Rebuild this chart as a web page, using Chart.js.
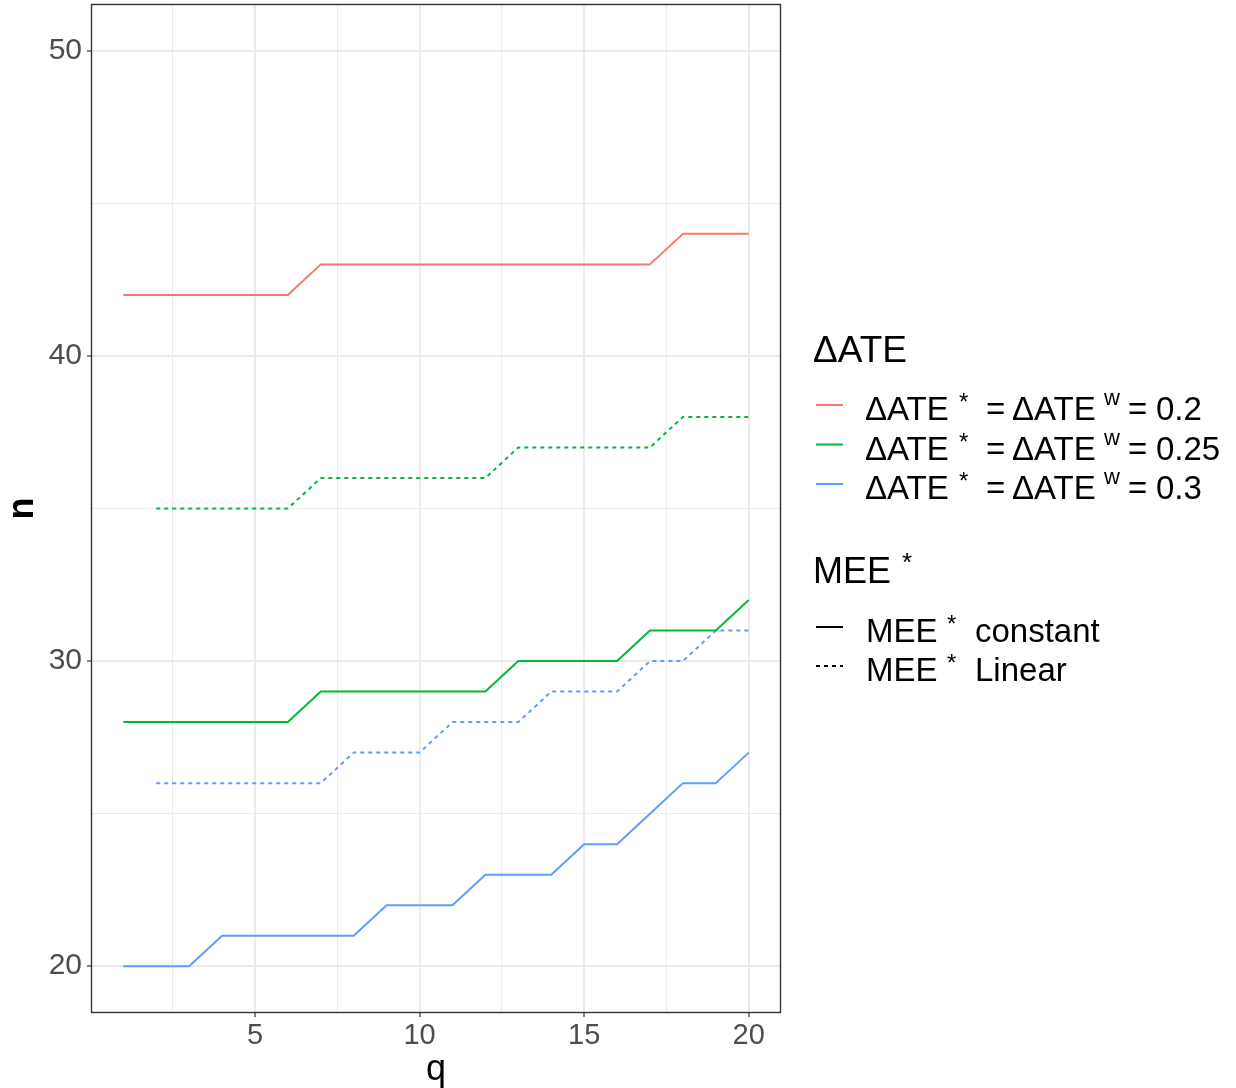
<!DOCTYPE html>
<html>
<head>
<meta charset="utf-8">
<script src="https://cdn.jsdelivr.net/npm/chart.js@4.4.1/dist/chart.umd.min.js"></script>
<style>
  html, body { margin: 0; padding: 0; background: #ffffff; }
  #wrap { position: relative; width: 1236px; height: 1088px; }
</style>
</head>
<body>
<div id="wrap"><canvas id="c" width="1236" height="1088"></canvas></div>
<script>
// ---- data ----
const q = [1,2,3,4,5,6,7,8,9,10,11,12,13,14,15,16,17,18,19,20];
const const02  = [42,42,42,42,42,42,43,43,43,43,43,43,43,43,43,43,43,44,44,44];
const linear025 = [null,35,35,35,35,35,36,36,36,36,36,36,37,37,37,37,37,38,38,38];
const const025 = [28,28,28,28,28,28,29,29,29,29,29,29,30,30,30,30,31,31,31,32];
const linear03 = [null,26,26,26,26,26,26,27,27,27,28,28,28,29,29,29,30,30,31,31];
const const03  = [20,20,20,21,21,21,21,21,22,22,22,23,23,23,24,24,25,26,26,27];
const xTicks = [2.5,5,7.5,10,12.5,15,17.5,20];
const xMajor = [5,10,15,20];
const yTicks = [20,25,30,35,40,45,50];
const yMajor = [20,30,40,50];
const deltaValues = ["0.2","0.25","0.3"];
const colors = ["#F8766D","#00BA38","#619CFF"];
const meeLabels = ["constant","Linear"];

function pts(arr){ return q.map((x,i)=>({x:x,y:arr[i]})).filter(p=>p.y!==null); }

const FONT = '"Liberation Sans", Arial, Helvetica, sans-serif';

const datasets = [
  {data: pts(const02),  borderColor: colors[0], dash: []},
  {data: pts(linear025), borderColor: colors[1], dash: [4,4]},
  {data: pts(const025), borderColor: colors[1], dash: []},
  {data: pts(linear03), borderColor: colors[2], dash: [4,4]},
  {data: pts(const03),  borderColor: colors[2], dash: []}
].map(d=>({data:d.data, borderColor:d.borderColor, borderDash:d.dash, borderWidth:2,
  pointRadius:0, fill:false, tension:0, borderCapStyle:'butt', borderJoinStyle:'round'}));

const panelAndLegend = {
  id: 'panelAndLegend',
  afterDraw(chart){
    const ctx = chart.ctx; const a = chart.chartArea;
    ctx.save();
    ctx.strokeStyle = '#333333'; ctx.lineWidth = 1.4;
    const L = Math.round(a.left) - 0.5, T = Math.round(a.top) - 0.5;
    const R = Math.round(a.right) + 0.5, B = Math.round(a.bottom) + 0.5;
    ctx.strokeRect(L, T, R-L, B-T);
    ctx.fillStyle = '#000000';
    ctx.textBaseline = 'alphabetic'; ctx.textAlign = 'left';
    function t(s, x, y, size){ ctx.font = size+'px '+FONT; ctx.fillText(s, x, y); }
    // Legend 1
    t('\u0394ATE', 813, 362, 37);
    const rowsY = [420, 459.5, 499];
    rowsY.forEach((by,i)=>{
      ctx.strokeStyle = colors[i]; ctx.lineWidth = 2; ctx.setLineDash([]);
      ctx.beginPath(); ctx.moveTo(816, by-15); ctx.lineTo(843, by-15); ctx.stroke();
      t('\u0394ATE', 865, by, 33);
      t('*', 959, by-10, 24);
      t('=', 986, by, 33);
      t('\u0394ATE', 1012, by, 33);
      t('w', 1104, by-15, 22);
      t('=', 1128, by, 33);
      t(deltaValues[i], 1156, by, 33);
    });
    // Legend 2
    t('MEE', 813, 583, 36);
    t('*', 902, 571, 26);
    const rows2 = [642, 681];
    rows2.forEach((by,i)=>{
      ctx.strokeStyle = '#000000'; ctx.lineWidth = 2;
      ctx.setLineDash(i===1 ? [4,4] : []);
      ctx.beginPath(); ctx.moveTo(816, by-15); ctx.lineTo(843, by-15); ctx.stroke();
      t('MEE', 866, by, 33);
      t('*', 947, by-10, 24);
      t(meeLabels[i], 975, by, 33);
    });
    ctx.restore();
  }
};

new Chart(document.getElementById('c'), {
  type: 'line',
  data: { datasets },
  plugins: [panelAndLegend],
  options: {
    responsive: false, animation: false,
    layout: { padding: { top: 5, right: 456, left: 0, bottom: 0 } },
    plugins: { legend: { display: false }, tooltip: { enabled: false } },
    scales: {
      x: {
        type: 'linear', min: 0.05, max: 20.95,
        afterBuildTicks: s => { s.ticks = xTicks.map(v=>({value:v})); },
        afterFit: s => { s.height = 76; s.paddingLeft = 0; s.paddingRight = 0; },
        border: { display: false },
        grid: {
          color: c => '#ebebeb',
          lineWidth: c => xMajor.includes(c.tick && c.tick.value) ? 2 : 1,
          tickColor: c => xMajor.includes(c.tick && c.tick.value) ? '#333333' : 'rgba(0,0,0,0)',
          tickWidth: 1.2, tickLength: 5, drawTicks: true
        },
        ticks: {
          autoSkip: false, maxRotation: 0, padding: 2,
          color: '#4d4d4d', font: { family: FONT, size: 29 },
          callback: v => xMajor.includes(v) ? String(v) : ''
        },
        title: { display: true, text: 'q', color: '#000000',
          font: { family: FONT, size: 36, lineHeight: 1 }, padding: { top: 0, bottom: 0 } }
      },
      y: {
        type: 'linear', min: 18.5, max: 51.5,
        afterBuildTicks: s => { s.ticks = yTicks.map(v=>({value:v})); },
        afterFit: s => { s.width = 92; s.paddingTop = 0; s.paddingBottom = 0; },
        border: { display: false },
        grid: {
          color: c => '#ebebeb',
          lineWidth: c => yMajor.includes(c.tick && c.tick.value) ? 2 : 1,
          tickColor: c => yMajor.includes(c.tick && c.tick.value) ? '#333333' : 'rgba(0,0,0,0)',
          tickWidth: 1.2, tickLength: 5, drawTicks: true
        },
        ticks: {
          autoSkip: false, padding: 5,
          color: '#4d4d4d', font: { family: FONT, size: 30 },
          callback: v => yMajor.includes(v) ? String(v) : ''
        },
        title: { display: true, text: 'n', color: '#000000',
          font: { family: FONT, size: 36, weight: 'bold', lineHeight: 1 }, padding: { top: 5, bottom: 0 } }
      }
    }
  }
});
</script>
</body>
</html>
